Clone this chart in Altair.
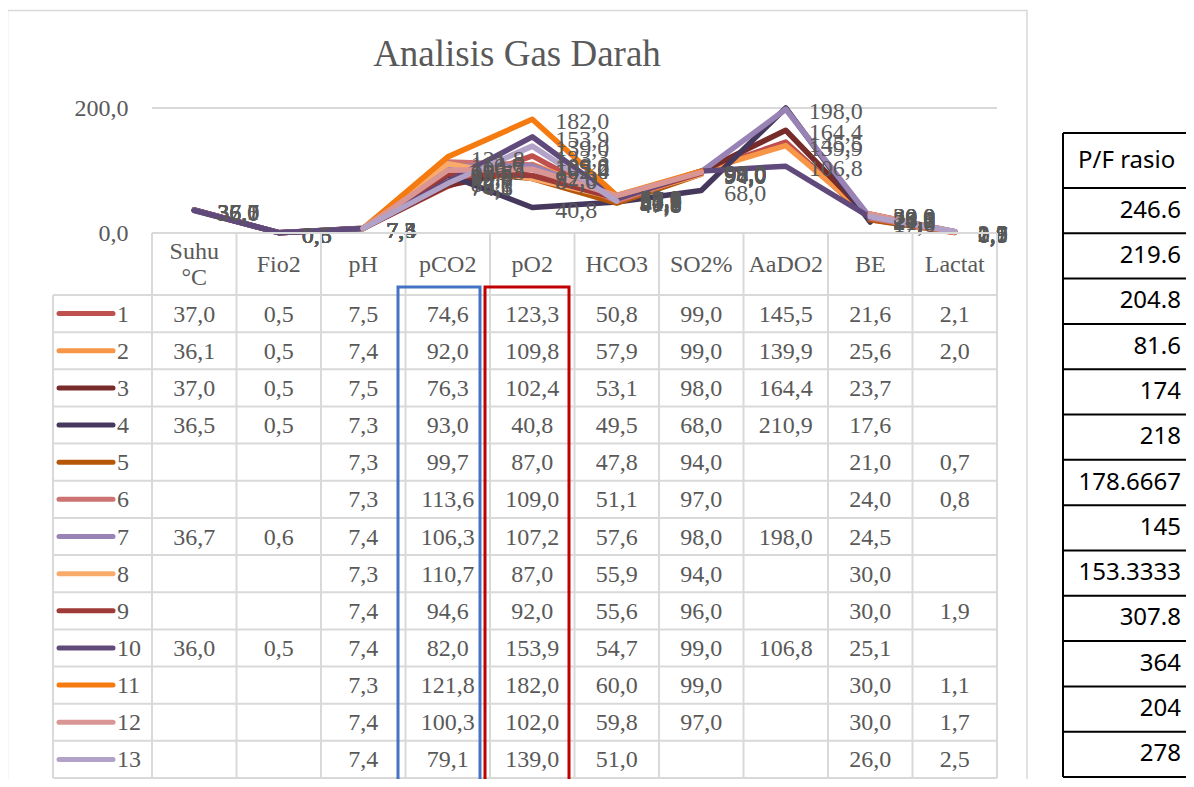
import altair as alt
import pandas as pd

# ---------------- data ----------------
categories = ["Suhu °C", "Fio2", "pH", "pCO2", "pO2", "HCO3", "SO2%", "AaDO2", "BE", "Lactat"]
header_labels = ["Suhu\n°C", "Fio2", "pH", "pCO2", "pO2", "HCO3", "SO2%", "AaDO2", "BE", "Lactat"]
series_names = [str(i) for i in range(1, 14)]
series_colors = ["#C0504D", "#F79646", "#772C2A", "#46385C", "#B65708", "#CD7371", "#9983B5",
                 "#F9AB6B", "#9E3B39", "#604A7B", "#F57A10", "#D99694", "#B3A2C7"]
N = None
suhu = [37.0, 36.1, 37.0, 36.5, N, N, 36.7, N, N, 36.0, N, N, N]
fio2 = [0.5, 0.5, 0.5, 0.5, N, N, 0.6, N, N, 0.5, N, N, N]
ph = [7.5, 7.4, 7.5, 7.3, 7.3, 7.3, 7.4, 7.3, 7.4, 7.4, 7.3, 7.4, 7.4]
pco2 = [74.6, 92.0, 76.3, 93.0, 99.7, 113.6, 106.3, 110.7, 94.6, 82.0, 121.8, 100.3, 79.1]
po2 = [123.3, 109.8, 102.4, 40.8, 87.0, 109.0, 107.2, 87.0, 92.0, 153.9, 182.0, 102.0, 139.0]
hco3 = [50.8, 57.9, 53.1, 49.5, 47.8, 51.1, 57.6, 55.9, 55.6, 54.7, 60.0, 59.8, 51.0]
so2 = [99.0, 99.0, 98.0, 68.0, 94.0, 97.0, 98.0, 94.0, 96.0, 99.0, 99.0, 97.0, N]
aado2 = [145.5, 139.9, 164.4, 210.9, N, N, 198.0, N, N, 106.8, N, N, N]
be = [21.6, 25.6, 23.7, 17.6, 21.0, 24.0, 24.5, 30.0, 30.0, 25.1, 30.0, 30.0, 26.0]
lactat = [2.1, 2.0, N, N, 0.7, 0.8, N, N, 1.9, N, 1.1, 1.7, 2.5]
columns = [suhu, fio2, ph, pco2, po2, hco3, so2, aado2, be, lactat]

title_text = "Analisis Gas Darah"
y_ticks = [0, 200]
pf_header = "P/F rasio"
pf_rasio = ["246.6", "219.6", "204.8", "81.6", "174", "218", "178.6667", "145",
            "153.3333", "307.8", "364", "204", "278"]


def fmt(v):
    return f"{v:.1f}".replace(".", ",")


cells, line_pts = [], []
for s_i, name in enumerate(series_names):
    run, current = 0, []
    for c_i, cat in enumerate(categories):
        v = columns[c_i][s_i]
        cells.append(dict(series=name, cat=cat, value=v,
                          text=fmt(v) if v is not None else "", row=s_i + 0.5))
        if v is None:
            if len(current) > 1:
                line_pts.extend(current)
            current, run = [], run + 1
        else:
            current.append(dict(series=name, cat=cat, value=v, idx=c_i, run=f"{name}-{run}"))
    if len(current) > 1:
        line_pts.extend(current)

df_cells = pd.DataFrame(cells)
df_lines = pd.DataFrame(line_pts)
df_labels = df_cells[df_cells["value"].notna() & (df_cells["value"] <= 200)]
df_header = pd.DataFrame({"cat": categories, "label": header_labels})
df_series = pd.DataFrame({"series": series_names, "row": [i + 0.5 for i in range(13)]})
df_edges = pd.DataFrame({"edge": list(range(11))})
df_rowlines = pd.DataFrame({"r": list(range(14))})
df_pf = pd.DataFrame({"txt": pf_rasio, "row": [i + 0.5 for i in range(13)]})
df_one = pd.DataFrame({"k": [0]})

# ---------------- styling / layout ----------------
SERIF = "Liberation Serif"
SANS = "Noto Sans"
GREY = "#595959"
GRID = "#D9D9D9"
W, H = 1178, 771

x_cat = alt.Scale(type="point", domain=categories, range=[144, 989], padding=0.5)
x_edge = alt.Scale(domain=[0, 10], range=[144, 989], nice=False, zero=False)
y_val = alt.Scale(domain=[0, 200], range=[225, 100], clamp=True, nice=False)
y_row = alt.Scale(domain=[0, 13], range=[287, 770], nice=False)
y_pf = alt.Scale(domain=[0, 13], range=[180, 769], nice=False)
col_scale = alt.Scale(domain=series_names, range=series_colors)

frame = alt.Chart(df_one).mark_rect(fillOpacity=0, stroke=GRID, strokeWidth=1.5).encode(
    x=alt.value(-0.5), x2=alt.value(1019), y=alt.value(2.5), y2=alt.value(820))

title = alt.Chart(df_one).mark_text(font=SERIF, fontSize=37, color=GREY,
                                    align="center", baseline="middle").encode(
    x=alt.value(509), y=alt.value(47), text=alt.value(title_text))

gridline = alt.Chart(pd.DataFrame({"v": [200]})).mark_rule(color=GRID, strokeWidth=2).encode(
    y=alt.Y("v:Q", scale=y_val, axis=None), x=alt.value(144), x2=alt.value(989))

lines = alt.Chart(df_lines).mark_line(strokeWidth=5.5, strokeCap="round", strokeJoin="round").encode(
    x=alt.X("cat:N", scale=x_cat, axis=None),
    y=alt.Y("value:Q", scale=y_val,
            axis=alt.Axis(values=y_ticks, labelExpr="replace(format(datum.value, '.1f'), '.', ',')",
                          domain=False, ticks=False, grid=False, offset=-144, labelPadding=24,
                          labelFont=SERIF, labelFontSize=24, labelColor=GREY, title=None)),
    color=alt.Color("series:N", scale=col_scale, legend=None),
    detail="run:N",
    order=alt.Order("idx:Q"),
)

labels = alt.Chart(df_labels).mark_text(align="left", baseline="middle", dx=23, dy=3,
                                        font=SERIF, fontSize=24, color=GREY).encode(
    x=alt.X("cat:N", scale=x_cat, axis=None),
    y=alt.Y("value:Q", scale=y_val, axis=None),
    text="text:N",
)

vlines = alt.Chart(df_edges).mark_rule(color=GRID, strokeWidth=2).encode(
    x=alt.X("edge:Q", scale=x_edge, axis=None), y=alt.value(225), y2=alt.value(770))
leg_border = alt.Chart(df_one).mark_rule(color=GRID, strokeWidth=2).encode(
    x=alt.value(45), y=alt.value(287), y2=alt.value(770))
hlines = alt.Chart(df_rowlines).mark_rule(color=GRID, strokeWidth=2).encode(
    y=alt.Y("r:Q", scale=y_row, axis=None), x=alt.value(45), x2=alt.value(989))
axis_line = alt.Chart(df_one).mark_rule(color=GRID, strokeWidth=2).encode(
    y=alt.value(225), x=alt.value(144), x2=alt.value(989))

header_single = alt.Chart(df_header).transform_filter(
    "indexof(datum.label, '\\n') < 0"
).mark_text(font=SERIF, fontSize=24, color=GREY, align="center", baseline="middle").encode(
    x=alt.X("cat:N", scale=x_cat, axis=None), y=alt.value(257), text="label:N")
header_multi = alt.Chart(df_header).transform_filter(
    "indexof(datum.label, '\\n') >= 0"
).mark_text(font=SERIF, fontSize=24, color=GREY, align="center", baseline="middle",
            lineBreak="\n", lineHeight=26).encode(
    x=alt.X("cat:N", scale=x_cat, axis=None), y=alt.value(244), text="label:N")

cell_text = alt.Chart(df_cells).mark_text(font=SERIF, fontSize=24, color=GREY, align="center",
                                          baseline="middle", dy=1).encode(
    x=alt.X("cat:N", scale=x_cat, axis=None),
    y=alt.Y("row:Q", scale=y_row, axis=None),
    text="text:N",
)

leg_keys = alt.Chart(df_series).mark_rule(strokeWidth=5, strokeCap="round").encode(
    x=alt.value(51), x2=alt.value(105),
    y=alt.Y("row:Q", scale=y_row, axis=None),
    color=alt.Color("series:N", scale=col_scale, legend=None),
)
leg_text = alt.Chart(df_series).mark_text(font=SERIF, fontSize=24, color=GREY, align="left",
                                          baseline="middle", dy=1).encode(
    x=alt.value(109), y=alt.Y("row:Q", scale=y_row, axis=None), text="series:N")

box_blue = alt.Chart(df_one).mark_rect(fillOpacity=0, stroke="#4472C4", strokeWidth=3).encode(
    x=alt.value(390), x2=alt.value(472), y=alt.value(279), y2=alt.value(777))
box_red = alt.Chart(df_one).mark_rect(fillOpacity=0, stroke="#C00000", strokeWidth=3).encode(
    x=alt.value(477), x2=alt.value(561), y=alt.value(279), y2=alt.value(777))

pf_left = alt.Chart(df_one).mark_rule(color="black", strokeWidth=2).encode(
    x=alt.value(1055), y=alt.value(125), y2=alt.value(769))
pf_top = alt.Chart(df_one).mark_rule(color="black", strokeWidth=2).encode(
    y=alt.value(125), x=alt.value(1055), x2=alt.value(1200))
pf_lines = alt.Chart(df_rowlines).mark_rule(color="black", strokeWidth=2).encode(
    y=alt.Y("r:Q", scale=y_pf, axis=None), x=alt.value(1055), x2=alt.value(1200))
pf_head = alt.Chart(df_one).mark_text(font=SANS, fontSize=24, color="black", align="left",
                                      baseline="middle").encode(
    x=alt.value(1070), y=alt.value(153), text=alt.value(pf_header))
pf_vals = alt.Chart(df_pf).mark_text(font=SANS, fontSize=24, color="black", align="right",
                                     baseline="middle").encode(
    x=alt.value(1173), y=alt.Y("row:Q", scale=y_pf, axis=None), text="txt:N")

chart = alt.layer(
    frame, gridline, lines, labels, vlines, leg_border, hlines, axis_line, header_single,
    header_multi, cell_text, leg_keys, leg_text, box_blue, box_red, title, pf_left, pf_top,
    pf_lines, pf_head, pf_vals,
).resolve_scale(x="independent", y="independent").properties(
    width=W, height=H, padding=0, autosize=alt.AutoSizeParams(type="none"),
    background="white",
).configure_view(stroke=None)

chart.save("out.html", embed_options={"renderer": "svg", "actions": False})
